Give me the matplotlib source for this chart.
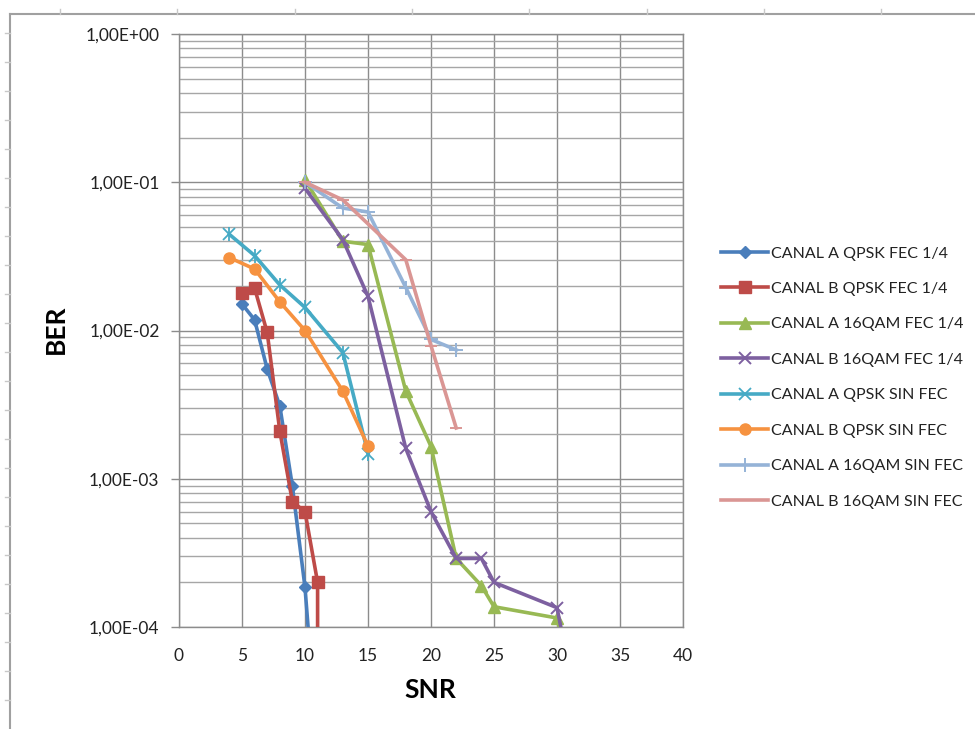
import numpy as np
import matplotlib.pyplot as plt
from matplotlib.lines import Line2D
from matplotlib.ticker import FixedLocator, FuncFormatter, LogLocator, NullFormatter

plt.rcParams['font.family'] = ['Lato', 'DejaVu Sans']

# data (SNR, BER)
snr_a_qpsk_fec = [5, 6, 7, 8, 9, 10, 11]
ber_a_qpsk_fec = [0.0151, 0.0118, 0.0055, 0.0031, 8.9e-4, 1.85e-4, 1.5e-5]

snr_b_qpsk_fec = [5, 6, 7, 8, 9, 10, 11, 11]
ber_b_qpsk_fec = [0.0178, 0.0193, 0.0097, 0.0021, 7.0e-4, 6.0e-4, 2.0e-4, 1e-6]

snr_a_16qam_fec = [10, 13, 15, 18, 20, 22, 24, 25, 30, 31]
ber_a_16qam_fec = [0.104, 0.040, 0.038, 0.0039, 0.00165, 2.9e-4, 1.9e-4, 1.37e-4, 1.15e-4, 5e-5]

snr_b_16qam_fec = [10, 13, 15, 18, 20, 22, 24, 25, 30, 31]
ber_b_16qam_fec = [0.091, 0.041, 0.017, 0.0016, 6.0e-4, 2.9e-4, 2.9e-4, 2.0e-4, 1.35e-4, 5e-5]

snr_a_qpsk_sin = [4, 6, 8, 10, 13, 15]
ber_a_qpsk_sin = [0.0445, 0.032, 0.0203, 0.0143, 0.0071, 0.00148]

snr_b_qpsk_sin = [4, 6, 8, 10, 13, 15]
ber_b_qpsk_sin = [0.031, 0.026, 0.0156, 0.0100, 0.0039, 0.00166]

snr_a_16qam_sin = [10, 13, 15, 18, 20, 22]
ber_a_16qam_sin = [0.100, 0.067, 0.063, 0.0195, 0.0087, 0.0074]

snr_b_16qam_sin = [10, 13, 18, 20, 22]
ber_b_16qam_sin = [0.100, 0.076, 0.030, 0.0079, 0.0022]

series = [
    ("CANAL A QPSK FEC 1/4", snr_a_qpsk_fec, ber_a_qpsk_fec, '#4A7EBB', 'D', 6),
    ("CANAL B QPSK FEC 1/4", snr_b_qpsk_fec, ber_b_qpsk_fec, '#BE4B48', 's', 9),
    ("CANAL A 16QAM FEC 1/4", snr_a_16qam_fec, ber_a_16qam_fec, '#98B954', '^', 8),
    ("CANAL B 16QAM FEC 1/4", snr_b_16qam_fec, ber_b_16qam_fec, '#7D60A0', 'x', 9),
    ("CANAL A QPSK SIN FEC", snr_a_qpsk_sin, ber_a_qpsk_sin, '#46AAC5', '*', 9),
    ("CANAL B QPSK SIN FEC", snr_b_qpsk_sin, ber_b_qpsk_sin, '#F69240', 'o', 8),
    ("CANAL A 16QAM SIN FEC", snr_a_16qam_sin, ber_a_16qam_sin, '#95B3D7', '+', 10),
    ("CANAL B 16QAM SIN FEC", snr_b_16qam_sin, ber_b_16qam_sin, '#DA9694', '_', 9),
]

fig = plt.figure(figsize=(9.75, 7.29), dpi=100)
W, H = 975, 729
ax = fig.add_axes([179 / W, 1 - 627 / H, (683 - 179) / W, (627 - 34) / H])

for name, x, y, c, m, ms in series:
    if m == '*':
        # excel "star": x with a vertical bar
        ax.plot(x, y, color=c, lw=2.6, marker='x', ms=ms, mew=1.3, label=name, zorder=3)
        ax.plot(x, y, color=c, lw=0, marker='|', ms=ms + 1, mew=1.3, zorder=3)
    elif m in ('x', '+', '_'):
        ax.plot(x, y, color=c, lw=2.6, marker=m, ms=ms, mew=1.4, label=name, zorder=3)
    else:
        ax.plot(x, y, color=c, lw=2.6, marker=m, ms=ms, mec=c, label=name, zorder=3)

ax.set_yscale('log')
ax.set_xlim(0, 40)
ax.set_ylim(1e-4, 1)
ax.set_xticks(np.arange(0, 41, 5))
ax.yaxis.set_major_locator(FixedLocator([1e-4, 1e-3, 1e-2, 1e-1, 1]))
ax.yaxis.set_minor_locator(LogLocator(base=10, subs=np.arange(2, 10)))
ax.yaxis.set_minor_formatter(NullFormatter())
ax.yaxis.set_major_formatter(FuncFormatter(lambda v, p: ("%.2E" % v).replace('.', ',')))

ax.grid(True, which='major', color='#8C8C8C', lw=1.0)
ax.grid(True, which='minor', axis='y', color='#A6A6A6', lw=1.0)
ax.set_axisbelow(True)
for s in ax.spines.values():
    s.set_color('#8C8C8C')
    s.set_linewidth(1.0)

ax.tick_params(axis='x', length=0, pad=15, labelsize=12.5, colors='#222222')
ax.tick_params(axis='y', which='major', length=6, width=1, color='#8C8C8C', pad=8,
               labelsize=12.5, labelcolor='#222222')
ax.tick_params(axis='y', which='minor', length=0)

fig.text(430 / W, 1 - 690 / H, "SNR", fontsize=19, fontweight='bold', ha='center', va='center')
fig.text(56 / W, 1 - 329 / H, "BER", fontsize=19, fontweight='bold', ha='center', va='center',
         rotation=90)

leg = ax.legend(loc='upper left', bbox_to_anchor=(715 / W, 1 - 240 / H),
                bbox_transform=fig.transFigure, frameon=False, fontsize=11.5,
                handlelength=2.9, handletextpad=0.2, labelspacing=1.33, borderaxespad=0)
for t in leg.get_texts():
    t.set_color('#222222')

# spreadsheet frame around the chart
gc = '#A0A0A0'
fig.add_artist(Line2D([10 / W, 1], [1 - 14 / H, 1 - 14 / H], color=gc, lw=1.5, transform=fig.transFigure))
fig.add_artist(Line2D([10 / W, 10 / W], [0, 1 - 14 / H], color=gc, lw=1.5, transform=fig.transFigure))
for k in range(8):
    px = 60 + 117.3 * k
    fig.add_artist(Line2D([px / W, px / W], [1 - 14 / H, 1 - 9 / H], color='#C8C8C8', lw=1,
                          transform=fig.transFigure))
for k in range(24):
    py = 33 + 29.0 * k
    fig.add_artist(Line2D([5 / W, 10 / W], [1 - py / H, 1 - py / H], color='#C8C8C8', lw=1,
                          transform=fig.transFigure))

fig.savefig('out.png', dpi=100)
